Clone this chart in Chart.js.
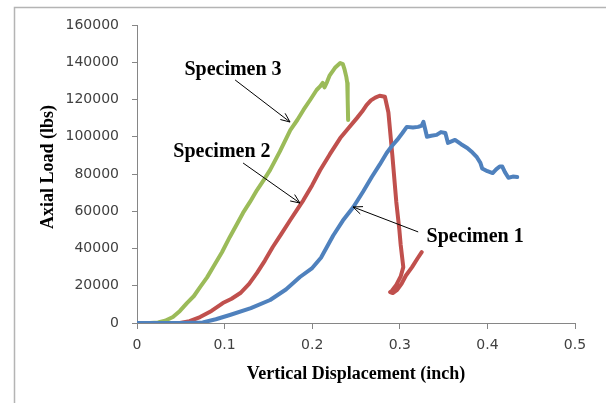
<!DOCTYPE html>
<html>
<head>
<meta charset="utf-8">
<script src="https://cdn.jsdelivr.net/npm/chart.js@4.4.0/dist/chart.umd.min.js"></script>
<style>
html, body { margin: 0; padding: 0; background: #fff; }
</style>
</head>
<body>
<canvas id="chart" width="606" height="403"></canvas>
<script>
// axis ticks
const xTicks = [0, 0.1, 0.2, 0.3, 0.4, 0.5];
const yTicks = [0, 20000, 40000, 60000, 80000, 100000, 120000, 140000, 160000];

// Specimen 1 (blue)
const s1X = [0, 0.02, 0.05, 0.075, 0.09, 0.106, 0.13, 0.152, 0.17, 0.186, 0.2, 0.21, 0.224, 0.235, 0.247, 0.258, 0.268, 0.277, 0.285, 0.291, 0.297, 0.303, 0.308, 0.315, 0.321, 0.325, 0.327, 0.329, 0.331, 0.336, 0.342, 0.347, 0.352, 0.355, 0.359, 0.363, 0.37, 0.377, 0.383, 0.388, 0.392, 0.394, 0.4, 0.406, 0.41, 0.414, 0.417, 0.42, 0.424, 0.429, 0.434];
const s1Y = [0, 0, 0, 300, 2000, 4300, 8000, 12350, 18000, 24700, 29500, 35000, 47000, 55000, 62300, 70500, 78400, 85000, 91300, 95000, 98300, 102000, 105300, 105000, 105300, 106000, 108000, 104000, 100000, 100500, 101000, 102500, 102000, 96700, 97500, 98300, 96000, 94000, 91500, 89000, 86000, 83000, 81500, 80500, 82500, 84000, 84000, 81000, 78000, 78600, 78400];

// Specimen 2 (red)
const s2X = [0, 0.03, 0.049, 0.06, 0.072, 0.085, 0.098, 0.108, 0.118, 0.128, 0.137, 0.146, 0.155, 0.165, 0.175, 0.183, 0.19, 0.2, 0.209, 0.22, 0.232, 0.242, 0.251, 0.257, 0.262, 0.267, 0.272, 0.277, 0.283, 0.287, 0.2915, 0.296, 0.2995, 0.301, 0.3025, 0.304, 0.301, 0.296, 0.291, 0.289, 0.292, 0.297, 0.302, 0.307, 0.314, 0.32, 0.325];
const s2Y = [0, 0, 0, 1000, 3200, 6500, 10700, 13000, 16100, 21000, 26900, 33500, 40800, 48000, 55300, 61000, 66000, 74000, 82000, 90500, 99300, 105000, 110000, 113500, 117000, 119500, 121000, 122000, 121500, 113000, 90000, 65000, 50000, 42000, 36000, 30000, 25000, 20500, 17300, 16600, 16100, 17800, 21000, 25500, 30000, 34500, 38000];

// Specimen 3 (green)
const s3X = [0, 0.015, 0.024, 0.032, 0.041, 0.049, 0.057, 0.065, 0.072, 0.08, 0.087, 0.097, 0.106, 0.114, 0.121, 0.129, 0.137, 0.145, 0.152, 0.163, 0.175, 0.183, 0.19, 0.198, 0.205, 0.209, 0.212, 0.214, 0.217, 0.22, 0.226, 0.232, 0.235, 0.237, 0.239, 0.24, 0.2405, 0.241];
const s3Y = [0, 0, 300, 1200, 3200, 6500, 10700, 14500, 19300, 24500, 30100, 38000, 46200, 53000, 59100, 65000, 71400, 77000, 82200, 92000, 103600, 109000, 114400, 120000, 125100, 127000, 128900, 126500, 129500, 133000, 137000, 139600, 139000, 136000, 132000, 128900, 120000, 109000];

const seriesNames = ['Specimen 1', 'Specimen 2', 'Specimen 3'];

const BLUE  = '#4F81BD';
const RED   = '#C0504D';
const GREEN = '#9BBB59';
const AXIS  = '#868686';
const TITLE_FONT = 'bold 18px "Liberation Serif", "Times New Roman", serif';
const NOTE_FONT  = 'bold 20px "Liberation Serif", "Times New Roman", serif';

function toPoints(xs, ys) {
    return xs.map((x, i) => ({ x: x, y: ys[i] }));
}

function makeSet(label, xs, ys, color) {
    return {
        label: label,
        data: toPoints(xs, ys),
        showLine: true,
        borderColor: color,
        backgroundColor: color,
        borderWidth: 4,
        pointRadius: 0,
        tension: 0,
        borderCapStyle: 'round',
        borderJoinStyle: 'round'
    };
}

// callouts: label text, label centre, arrow start and tip, in data units
const notes = [
    { text: seriesNames[0], at: [0.386, 46000], from: [0.321, 48900], to: [0.2466, 62300] },
    { text: seriesNames[1], at: [0.097, 91800], from: [0.1211, 85900], to: [0.186, 64400] },
    { text: seriesNames[2], at: [0.1096, 135900], from: [0.112, 130500], to: [0.1747, 107900] }
];

function arrow(ctx, x1, y1, x2, y2) {
    const ang = Math.atan2(y2 - y1, x2 - x1);
    const len = 10, spread = 0.4;
    ctx.beginPath();
    ctx.moveTo(x1, y1);
    ctx.lineTo(x2, y2);
    ctx.moveTo(x2 - len * Math.cos(ang - spread), y2 - len * Math.sin(ang - spread));
    ctx.lineTo(x2, y2);
    ctx.lineTo(x2 - len * Math.cos(ang + spread), y2 - len * Math.sin(ang + spread));
    ctx.stroke();
}

const decor = {
    id: 'decor',
    afterDraw(chart) {
        const ctx = chart.ctx;
        const xs = chart.scales.x, ys = chart.scales.y;
        const area = chart.chartArea;
        ctx.save();

        // outer frame (top and left edges)
        ctx.strokeStyle = '#b4b4b4';
        ctx.lineWidth = 1.5;
        ctx.beginPath();
        ctx.moveTo(14.5, 403);
        ctx.lineTo(14.5, 7.5);
        ctx.lineTo(606, 7.5);
        ctx.stroke();

        // axis titles
        ctx.fillStyle = '#000';
        ctx.font = TITLE_FONT;
        ctx.textAlign = 'center';
        ctx.textBaseline = 'middle';
        ctx.fillText('Vertical Displacement (inch)', (area.left + area.right) / 2, 374);
        ctx.save();
        ctx.translate(48, 167);
        ctx.rotate(-Math.PI / 2);
        ctx.fillText('Axial Load (lbs)', 0, 0);
        ctx.restore();

        // callouts
        ctx.font = NOTE_FONT;
        ctx.strokeStyle = '#000';
        ctx.lineWidth = 1;
        notes.forEach(n => {
            ctx.fillText(n.text, xs.getPixelForValue(n.at[0]), ys.getPixelForValue(n.at[1]));
            arrow(ctx,
                xs.getPixelForValue(n.from[0]), ys.getPixelForValue(n.from[1]),
                xs.getPixelForValue(n.to[0]), ys.getPixelForValue(n.to[1]));
        });
        ctx.restore();
    }
};

new Chart(document.getElementById('chart'), {
    type: 'scatter',
    data: {
        datasets: [
            makeSet(seriesNames[0], s1X, s1Y, BLUE),
            makeSet(seriesNames[1], s2X, s2Y, RED),
            makeSet(seriesNames[2], s3X, s3Y, GREEN)
        ]
    },
    options: {
        responsive: false,
        animation: false,
        devicePixelRatio: 1,
        layout: { padding: { left: 0, top: 25, right: 31, bottom: 0 } },
        plugins: {
            legend: { display: false },
            tooltip: { enabled: false }
        },
        scales: {
            x: {
                type: 'linear',
                min: 0,
                max: 0.5,
                afterBuildTicks: s => { s.ticks = xTicks.map(v => ({ value: v })); },
                afterFit: s => { s.height = 80; },
                ticks: {
                    color: '#404040',
                    font: { family: '"DejaVu Sans", sans-serif', size: 14 },
                    padding: 8,
                    maxRotation: 0,
                    callback: v => String(v)
                },
                grid: { drawOnChartArea: false, drawTicks: true, tickLength: 6, color: AXIS },
                border: { color: AXIS, width: 1 }
            },
            y: {
                type: 'linear',
                min: 0,
                max: 160000,
                afterBuildTicks: s => { s.ticks = yTicks.map(v => ({ value: v })); },
                afterFit: s => { s.width = 137; },
                ticks: {
                    color: '#404040',
                    font: { family: '"DejaVu Sans", sans-serif', size: 14 },
                    padding: 13,
                    callback: v => String(v)
                },
                grid: { drawOnChartArea: false, drawTicks: true, tickLength: 5, color: AXIS },
                border: { color: AXIS, width: 1 }
            }
        }
    },
    plugins: [decor]
});
</script>
</body>
</html>
